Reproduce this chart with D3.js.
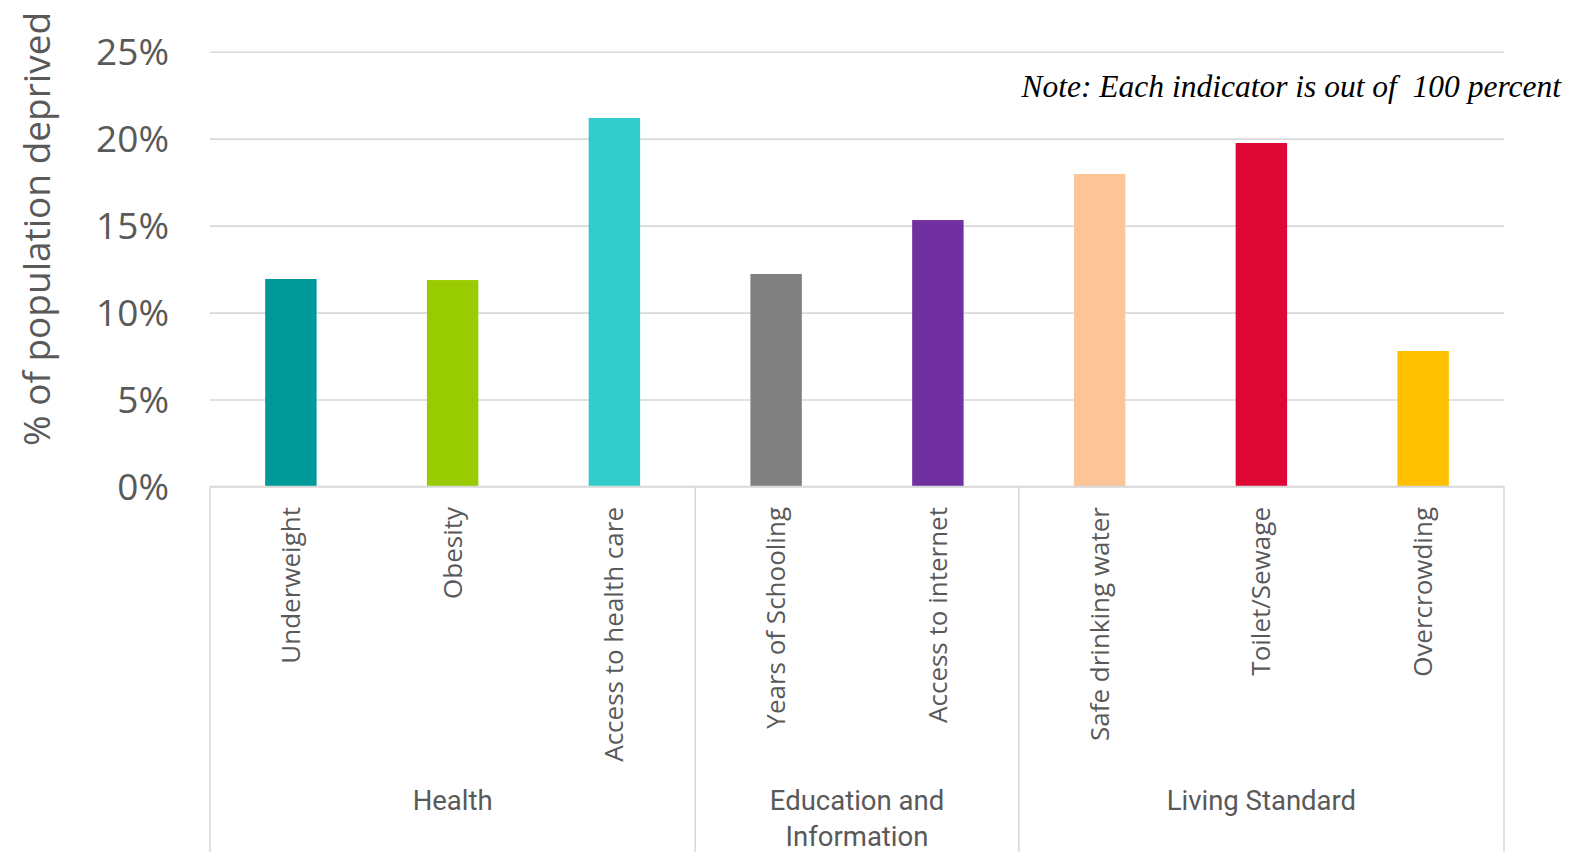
<!DOCTYPE html>
<html>
<head>
<meta charset="utf-8">
<script src="https://cdn.jsdelivr.net/npm/d3@7/dist/d3.min.js"></script>
<style>
  html, body { margin: 0; padding: 0; background: #fff; }
  svg { display: block; }
</style>
</head>
<body>
<svg id="chart" width="1589" height="852"></svg>
<script>
const categories = ["Underweight", "Obesity", "Access to health care", "Years of Schooling",
  "Access to internet", "Safe drinking water", "Toilet/Sewage", "Overcrowding"];
const values = [11.93, 11.87, 21.19, 12.22, 15.32, 17.97, 19.75, 7.79];
const colors = ["#009999", "#99CC00", "#33CCCC", "#808080", "#7030A0", "#FBC598", "#DF0735", "#FFC000"];
const groups = [["Health"], ["Education and", "Information"], ["Living Standard"]];
const groupSpans = [[0, 2], [3, 4], [5, 7]];
const yTicks = [0, 5, 10, 15, 20, 25];
const yTitle = "% of population deprived";
const note = "Note: Each indicator is out of  100 percent";

(function () {
const svg = d3.select("#chart");
const pLeft = 210, pRight = 1504, pTop = 51.7, pBottom = 486.5;
const textColor = "#595959", lineColor = "#D9D9D9";

const x = d3.scaleBand().domain(categories).range([pLeft, pRight]).paddingInner(0.682).paddingOuter(0.341);
const y = d3.scaleLinear().domain([0, 25]).range([pBottom, pTop]);

// gridlines
const yAxis = d3.axisLeft(y).tickValues(yTicks).tickSize(-(pRight - pLeft)).tickFormat(d => d + "%").tickPadding(41);
const gy = svg.append("g").attr("transform", `translate(${pLeft},0)`).call(yAxis);
gy.select(".domain").remove();
gy.selectAll(".tick line").attr("stroke", lineColor).attr("stroke-width", 1.6);
gy.selectAll(".tick text").attr("fill", textColor)
  .style("font-family", "'Open Sans', sans-serif").style("font-size", "37px").attr("dy", "0.35em");

// bars
svg.append("g").selectAll("rect").data(values).join("rect")
  .attr("x", (d, i) => x(categories[i]))
  .attr("width", x.bandwidth())
  .attr("y", d => y(d))
  .attr("height", d => y(0) - y(d))
  .attr("fill", (d, i) => colors[i]);

// baseline and group frame lines
const step = x.step();
svg.append("line").attr("x1", pLeft).attr("x2", pRight).attr("y1", pBottom).attr("y2", pBottom)
  .attr("stroke", lineColor).attr("stroke-width", 1.6);
const dividers = [pLeft, ...groupSpans.map(s => pLeft + (s[1] + 1) * step)];
svg.append("g").selectAll("line").data(dividers).join("line")
  .attr("x1", d => d).attr("x2", d => d).attr("y1", pBottom).attr("y2", 852)
  .attr("stroke", lineColor).attr("stroke-width", 1.6);

// category labels
svg.append("g").selectAll("text").data(categories).join("text")
  .attr("transform", d => `translate(${x(d) + x.bandwidth() / 2},507) rotate(-90)`)
  .attr("text-anchor", "end")
  .attr("dy", "0.35em")
  .attr("fill", textColor)
  .style("font-family", "'Open Sans', sans-serif").style("font-size", "26px")
  .text(d => d);

// group labels
groups.forEach((lines, gi) => {
  const s = groupSpans[gi];
  const cx = pLeft + (s[0] + s[1] + 1) / 2 * step;
  const t = svg.append("text").attr("x", cx).attr("y", 810).attr("text-anchor", "middle")
    .attr("fill", textColor)
    .style("font-family", "'Liberation Sans Narrow', 'Roboto', sans-serif").style("font-size", "27.5px");
  lines.forEach((ln, li) => t.append("tspan").attr("x", cx).attr("dy", li === 0 ? 0 : 36).text(ln));
});

// y axis title
svg.append("text").attr("transform", "translate(50,229) rotate(-90)")
  .attr("text-anchor", "middle").attr("fill", textColor)
  .style("font-family", "'Open Sans', sans-serif").style("font-size", "37px")
  .text(yTitle);

// note
svg.append("text").attr("x", 1561).attr("y", 97).attr("text-anchor", "end")
  .attr("fill", "#000")
  .style("font-family", "'Liberation Serif', serif").style("font-style", "italic").style("font-size", "31.5px")
  .style("white-space", "pre")
  .text(note);
})();
</script>
</body>
</html>
